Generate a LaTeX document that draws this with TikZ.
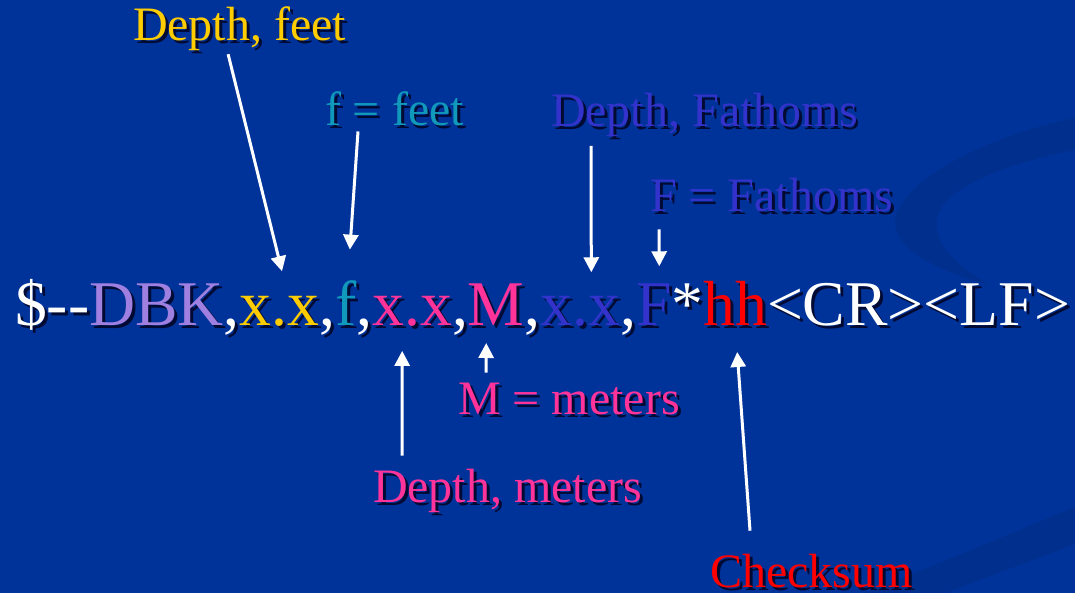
\documentclass[tikz,border=0pt]{standalone}
\usepackage{fontspec}
\setmainfont{Liberation Serif}
\usetikzlibrary{arrows.meta,positioning}
\definecolor{SlideBlue}{HTML}{003399}
\definecolor{SwooshBlue}{HTML}{002F8E}
\definecolor{ShadowDark}{HTML}{000A33}
\definecolor{DbkLavender}{HTML}{9F7FDF}
\definecolor{FeetYellow}{HTML}{FFCC00}
\definecolor{FeetTeal}{HTML}{1199BB}
\definecolor{MeterPink}{HTML}{FF3399}
\definecolor{FathomBlue}{HTML}{3333CC}
\definecolor{SumRed}{HTML}{FF0000}
\newcommand{\shd}[1]{\leavevmode\rlap{\kern3pt\raisebox{-3pt}{\textcolor{ShadowDark}{#1}}}#1}
\newcommand{\strsize}{\fontsize{63.7}{70}\selectfont}
\newcommand{\tagsize}{\fontsize{48}{54}\selectfont}

\begin{document}
\begin{tikzpicture}[x=1pt, y=-1pt,
    seg/.style={inner sep=0pt, outer sep=0pt, font=\rmfamily\strsize},
    tag/.style={inner sep=0pt, outer sep=0pt, font=\rmfamily\tagsize, anchor=base west},
    arr/.style={-{Triangle[length=15pt,width=15pt]}, line width=3pt, draw=white}
  ]
  \useasboundingbox (0,0) rectangle (1075,593);
  \fill[SlideBlue] (0,0) rectangle (1075,593);
  % faint swooshes
  \fill[SwooshBlue] (1075,118) .. controls (990,135) and (900,180) .. (895,220)
    .. controls (893,250) and (940,272) .. (990,285)
    .. controls (955,265) and (935,245) .. (937,220)
    .. controls (940,190) and (1000,165) .. (1075,150) -- cycle;
  \fill[SwooshBlue] (867,593) -- (1075,507) -- (1075,544) -- (945,593) -- cycle;

  % sentence
  \node[seg, text=white, anchor=base west] (dollar) at (15,325) {\shd{\$-\kern0pt-}};
  \node[seg, text=DbkLavender, base right=0pt of dollar] (dbk) {\shd{DBK}};
  \node[seg, text=white, base right=0pt of dbk] (c1) {\shd{,}};
  \node[seg, text=FeetYellow, base right=0pt of c1] (xxft) {\shd{x.x}};
  \node[seg, text=white, base right=0pt of xxft] (c2) {\shd{,}};
  \node[seg, text=FeetTeal, base right=0pt of c2] (ftag) {\shd{f}};
  \node[seg, text=white, base right=0pt of ftag] (c3) {\shd{,}};
  \node[seg, text=MeterPink, base right=0pt of c3] (xxm) {\shd{x.x}};
  \node[seg, text=white, base right=0pt of xxm] (c4) {\shd{,}};
  \node[seg, text=MeterPink, base right=0pt of c4] (mtag) {\shd{M}};
  \node[seg, text=white, base right=0pt of mtag] (c5) {\shd{,}};
  \node[seg, text=FathomBlue, base right=0pt of c5] (xxfa) {\shd{x.x}};
  \node[seg, text=white, base right=0pt of xxfa] (c6) {\shd{,}};
  \node[seg, text=FathomBlue, base right=0pt of c6] (fatag) {\shd{F}};
  \node[seg, text=white, base right=0pt of fatag] (star) {\shd{*}};
  \node[seg, text=SumRed, base right=0pt of star] (hh) {\shd{hh}};
  \node[seg, text=white, base right=0pt of hh] (crlf) {\shd{<CR><LF>}};

  % labels
  \node[tag, text=FeetYellow] (dfeet) at (133,41) {\shd{Depth, feet}};
  \node[tag, text=FeetTeal] (ffeet) at (325,126) {\shd{f = feet}};
  \node[tag, text=FathomBlue] (dfath) at (551,127) {\shd{Depth, Fathoms}};
  \node[tag, text=FathomBlue] (ffath) at (650,212) {\shd{F = Fathoms}};
  \node[tag, text=MeterPink] (mmet) at (458,414) {\shd{M = meters}};
  \node[tag, text=MeterPink] (dmet) at (373,502) {\shd{Depth, meters}};
  \node[tag, text=SumRed] (chk) at (710,587) {\shd{Checksum}};

  \draw[arr] ([xshift=-11.5pt]dfeet.south) -- ([xshift=2.5pt,yshift=24.5pt]xxft.north);
  \draw[arr] ([xshift=33pt,yshift=-2pt]ffeet.south west) -- ([xshift=4pt,yshift=30.5pt]ftag.north);
  \draw[arr] ([xshift=40pt,yshift=-5.6pt]dfath.south west) -- ([xshift=11pt,yshift=23.5pt]xxfa.north);
  \draw[arr] ([xshift=9pt,yshift=-14pt]ffath.south west) -- ([xshift=5.5pt,yshift=17pt]fatag.north);
  \draw[arr] ([xshift=29pt,yshift=13pt]dmet.north west) -- ([xshift=-10pt,yshift=-22pt]xxm.south);
  \draw[arr] ([xshift=28pt,yshift=10pt]mmet.north west) -- ([xshift=-10pt,yshift=-15pt]mtag.south);
  \draw[arr] ([xshift=40pt,yshift=23pt]chk.north west) -- ([xshift=2pt,yshift=-24pt]hh.south);
\end{tikzpicture}
\end{document}
